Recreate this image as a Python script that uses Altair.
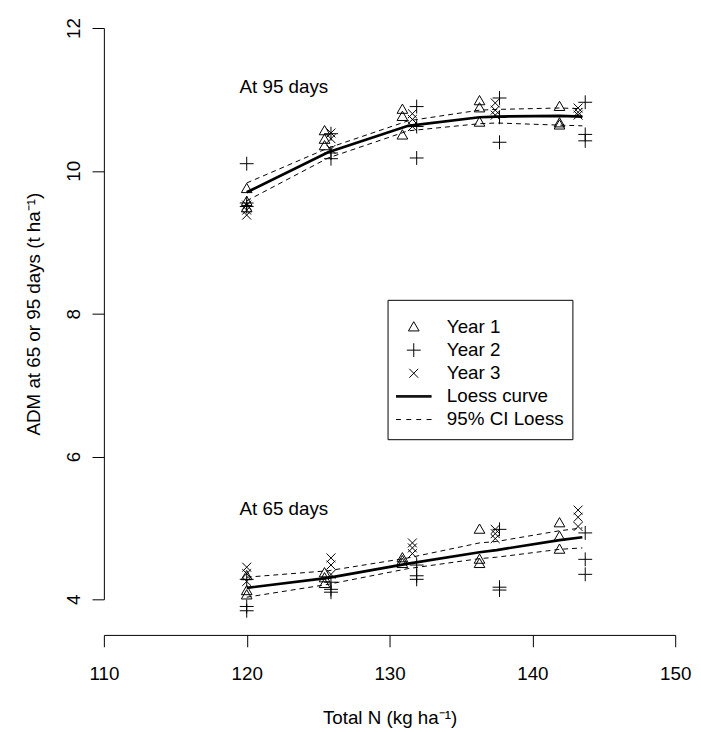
import altair as alt
import pandas as pd

FONT = "Liberation Sans"

# ---------------- data ----------------
legend_labels = ["Year 1", "Year 2", "Year 3", "Loess curve", "95% CI Loess"]

# N rates (kg/ha) for each year
n_year1 = [120, 125.45, 130.9, 136.3, 141.9]
n_year2 = [120, 125.9, 131.9, 137.7, 143.7]
n_year3 = [120, 125.9, 131.6, 137.4, 143.2]

# ADM at 95 days (3 reps per N rate)
adm95_year1 = [[9.75, 9.57, 9.48], [10.56, 10.44, 10.35], [10.86, 10.76, 10.50], [10.98, 10.88, 10.68], [10.90, 10.67, 10.64]]
adm95_year2 = [[10.10, 9.55, 9.50], [10.52, 10.25, 10.17], [10.90, 10.62, 10.18], [11.02, 10.75, 10.40], [10.96, 10.51, 10.42]]
adm95_year3 = [[9.52, 9.45, 9.38], [10.53, 10.45, 10.30], [10.80, 10.72, 10.62], [10.95, 10.85, 10.78], [10.88, 10.82, 10.78]]

# ADM at 65 days
adm65_year1 = [[4.33, 4.12, 4.06], [4.37, 4.30, 4.22], [4.58, 4.54, 4.50], [4.98, 4.56, 4.50], [5.07, 4.88, 4.70]]
adm65_year2 = [[4.28, 3.90, 3.84], [4.24, 4.14, 4.10], [4.48, 4.33, 4.28], [4.98, 4.17, 4.13], [4.93, 4.56, 4.35]]
adm65_year3 = [[4.45, 4.36, 4.25], [4.58, 4.48, 4.35], [4.79, 4.72, 4.64], [4.98, 4.92, 4.85], [5.25, 5.15, 5.02]]

# Loess curves and 95% CI
loess_n = [120, 125.7, 131.3, 136.3, 137.5, 141.9, 143.5]
fit95 = [9.70, 10.26, 10.63, 10.75, 10.76, 10.77, 10.76]
hi95 = [9.83, 10.32, 10.70, 10.85, 10.86, 10.88, 10.87]
lo95 = [9.58, 10.18, 10.56, 10.66, 10.67, 10.64, 10.63]
fit65 = [4.16, 4.30, 4.50, 4.66, 4.69, 4.83, 4.87]
hi65 = [4.31, 4.40, 4.58, 4.79, 4.81, 4.96, 5.00]
lo65 = [4.03, 4.21, 4.43, 4.57, 4.59, 4.70, 4.72]

# annotations
note_labels = ["At 95 days", "At 65 days"]
note_n = [122.6, 122.6]
note_adm = [11.17, 5.27]

x_ticks = [110, 120, 130, 140, 150]
y_ticks = [4, 6, 8, 10, 12]

# ---------------- build tables ----------------
rows = []
for label, ns, sets in [
    ("Year 1", n_year1, [adm95_year1, adm65_year1]),
    ("Year 2", n_year2, [adm95_year2, adm65_year2]),
    ("Year 3", n_year3, [adm95_year3, adm65_year3]),
]:
    for s in sets:
        for n, reps in zip(ns, s):
            for v in reps:
                rows.append({"N": n, "ADM": v, "series": label})
pts = pd.DataFrame(rows)

fit_rows, ci_rows = [], []
for panel, f, h, l in [("95", fit95, hi95, lo95), ("65", fit65, hi65, lo65)]:
    for i, n in enumerate(loess_n):
        fit_rows.append({"N": n, "ADM": f[i], "grp": panel, "o": i})
        ci_rows.append({"N": n, "ADM": h[i], "grp": panel + "hi", "o": i})
        ci_rows.append({"N": n, "ADM": l[i], "grp": panel + "lo", "o": i})
fit_df = pd.DataFrame(fit_rows)
ci_df = pd.DataFrame(ci_rows)
notes = pd.DataFrame({"N": note_n, "ADM": note_adm, "label": note_labels})

# ---------------- shapes ----------------
tri = "M0,-0.3L0.3,0.22L-0.3,0.22Z"
plus = "M-0.39,0L0.39,0M0,-0.39L0,0.39"
cross = "M-0.25,-0.25L0.25,0.25M-0.25,0.25L0.25,-0.25"
solid = "M-1,-0.045L1,-0.045M-1,0L1,0M-1,0.045L1,0.045"
dashed = "M-1,0L-0.72,0M-0.42,0L-0.14,0M0.14,0L0.42,0M0.72,0L1,0"

xscale = alt.Scale(domain=[110, 150], nice=False, zero=False)
yscale = alt.Scale(domain=[4, 12], nice=False, zero=False)

axis_x = alt.Axis(values=x_ticks, title="Total N (kg ha\u207b\u00b9)", offset=36, grid=False,
                  domainColor="black", tickColor="black", tickSize=12, labelFlush=False,
                  labelFontSize=19, labelPadding=18, labelColor="black", labelFont=FONT,
                  titleFontSize=19, titleFontWeight="normal", titlePadding=26,
                  titleColor="black", titleFont=FONT)
axis_y = alt.Axis(values=y_ticks, title="ADM at 65 or 95 days (t ha\u207b\u00b9)", grid=False,
                  domainColor="black", tickColor="black", tickSize=12, labelFlush=False,
                  labelAngle=270, labelAlign="center", labelBaseline="alphabetic",
                  labelFontSize=19, labelPadding=13, labelColor="black", labelFont=FONT,
                  titleFontSize=19, titleFontWeight="normal", titleColor="black", titleFont=FONT,
                  titleAngle=270, titleAlign="center", titleBaseline="alphabetic",
                  titleX=-65, titleY=289)

xenc = alt.X("N:Q", scale=xscale, axis=axis_x)
yenc = alt.Y("ADM:Q", scale=yscale, axis=axis_y)

points = alt.Chart(pts).mark_point(filled=False, size=1296, strokeWidth=1, color="black", opacity=1).encode(
    x=xenc, y=yenc,
    shape=alt.Shape("series:N",
                    scale=alt.Scale(domain=legend_labels, range=[tri, plus, cross, solid, dashed]),
                    legend=alt.Legend(orient="none", legendX=287, legendY=275, title=" ",
                                      titleFontSize=2, titlePadding=6, strokeColor="black",
                                      padding=8, labelFont=FONT, labelFontSize=19,
                                      labelColor="black", labelOffset=15, symbolSize=1296,
                                      symbolStrokeWidth=1, symbolStrokeColor="black",
                                      symbolFillColor="transparent", symbolOpacity=1,
                                      clipHeight=23, rowPadding=0.4)),
)

ci = alt.Chart(ci_df).mark_line(color="black", strokeWidth=1, strokeDash=[5, 4]).encode(
    x=xenc, y=yenc, detail="grp:N", order="o:Q")
fit = alt.Chart(fit_df).mark_line(color="black", strokeWidth=2.7).encode(
    x=xenc, y=yenc, detail="grp:N", order="o:Q")
text = alt.Chart(notes).mark_text(font=FONT, fontSize=19, color="black", align="center",
                                  baseline="middle").encode(x=xenc, y=yenc, text="label:N")

chart = alt.layer(points, ci, fit, text).properties(
    width=578, height=578,
    autosize=alt.AutoSizeParams(type="none"),
    padding={"left": 97, "top": 16, "right": 18, "bottom": 132},
).configure_view(stroke=None)

chart.save("out.html", embed_options={"renderer": "svg", "actions": False})
